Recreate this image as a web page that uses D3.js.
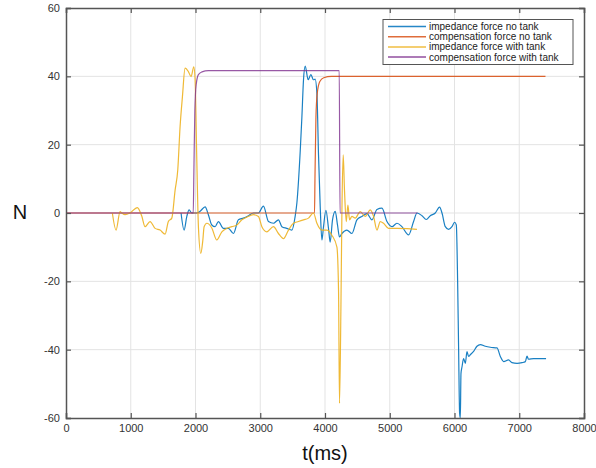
<!DOCTYPE html>
<html>
<head>
<meta charset="utf-8">
<script src="https://cdn.jsdelivr.net/npm/d3@7"></script>
<style>
  html, body { margin: 0; padding: 0; background: #fff; }
  svg { display: block; font-family: "Liberation Sans", Arial, sans-serif; }
</style>
</head>
<body>
<svg id="chart" width="596" height="468"></svg>
<script>
// ---- data ----
const xTicks = [0, 1000, 2000, 3000, 4000, 5000, 6000, 7000, 8000];
const yTicks = [-60, -40, -20, 0, 20, 40, 60];
const seriesNames = ["impedance force no tank", "compensation force no tank", "impedance force with tank", "compensation force with tank"];

const impNoTankT = [1777,1824,1866,1901,1943,2020,2071,2148,2199,2252,2303,2354,2431,2508,2586,2663,2740,2818,2895,2972,3049,3127,3204,3281,3334,3409,3488,3539,3566,3617,3643,3668,3694,3740,3782,3822,3848,3875,3900,3926,3952,3977,4014,4054,4080,4116,4158,4193,4224,4261,4338,4416,4493,4570,4648,4725,4802,4880,4957,5034,5111,5188,5291,5368,5420,5498,5564,5626,5703,5770,5807,5858,5909,5961,6001,6028,6048,6063,6079,6090,6100,6116,6141,6167,6193,6218,6244,6295,6347,6399,6476,6553,6657,6708,6760,6835,6888,6966,7043,7094,7120,7143,7222,7326,7414];
const impNoTankV = [0,-5,-1,0.9,0,0,0.5,1.8,-0.5,-3.5,-4,-2.5,-4.5,-4.5,-6,-2,-1.5,-0.8,0,0,2,-2.5,-3,-2,-4,-4.5,-5,-1,3,18,28,39,43,39,40.5,39,39.2,35,17,1.9,-7.9,-4,0.8,-4.5,-8.5,-2,0.5,-3.5,-7,-6,-5,-6,-2,-1,-0.2,-2,1,1.4,-2.5,-4,-3,-4,-6.4,-2.5,0,-0.8,-1.9,-0.8,0,1.7,0,-4,-4.8,-4,-2.7,-3.5,-19.6,-39,-58.6,-60,-47,-45,-42.6,-44,-40.6,-42,-41.5,-40.5,-39,-38.5,-39,-39.3,-39.5,-42,-43.5,-43,-43.8,-44,-43.8,-43.5,-41.9,-42.8,-42.6,-42.6,-42.6];

const compNoTankT = [0,3838,3845,3860,3880,3920,3980,4100,7405];
const compNoTankV = [0,0,10,28,35,38.5,39.6,40,40];

const impTankT = [716,773,835,861,912,989,1102,1170,1221,1298,1376,1453,1530,1581,1634,1685,1726,1762,1798,1839,1890,1932,1974,1994,2020,2045,2082,2113,2133,2175,2252,2329,2407,2484,2561,2638,2716,2793,2895,2972,3025,3102,3204,3281,3359,3436,3513,3590,3668,3745,3822,3875,3952,4029,4106,4184,4209,4224,4246,4261,4281,4301,4328,4354,4379,4416,4467,4544,4621,4699,4750,4802,4853,4904,4981,5111,5266,5420];
const impTankV = [0,-5,0.4,0,-0.5,0,1.6,-0.9,-4,-2.5,-4.5,-5,-6.2,-2.5,-1.5,6.7,12.6,25.3,34,42.4,41.4,39.9,42.8,38.9,15.5,-4,-11.8,-8,-4,-3,-4.4,-7.9,-5.5,-4.5,-4,-3.5,-2,-1.2,-0.5,-1,-4,-5.5,-4,-6,-7.5,-5,-3,-2.5,-2,-1.5,0,-3,-5,-5,-6.5,-10,-22.5,-55.7,-27.4,0,17,6.7,-2.5,2.3,-2,-1,-1.5,0.4,-1,0.9,-1,-5,-2.5,-3,-4.5,-4.5,-4.6,-4.8];

const compTankT = [0,1965,1975,1990,2010,2045,2100,2200,4220,4232,5430];
const compTankV = [0,0,12,30,37.5,40.5,41.3,41.7,41.7,0,0];

const colors = ["#0072BD", "#D95319", "#EDB120", "#7E2F8E"];

// ---- chart ----
const svg = d3.select("#chart");
const L = 66, R = 584, T = 8, B = 418;
const x = d3.scaleLinear().domain([0, 8000]).range([L, R]);
const y = d3.scaleLinear().domain([-60, 60]).range([B, T]);

// grid
const grid = svg.append("g");
grid.selectAll(".gx").data(xTicks.slice(1, -1)).enter().append("line")
  .attr("x1", d => x(d)).attr("x2", d => x(d)).attr("y1", T).attr("y2", B)
  .attr("stroke", "#e3e3e3").attr("stroke-width", 1);
grid.selectAll(".gy").data(yTicks.slice(1, -1)).enter().append("line")
  .attr("x1", L).attr("x2", R).attr("y1", d => y(d)).attr("y2", d => y(d))
  .attr("stroke", "#e3e3e3").attr("stroke-width", 1);

// lines
const series = [
  [impNoTankT, impNoTankV],
  [compNoTankT, compNoTankV],
  [impTankT, impTankV],
  [compTankT, compTankV]
];
const lineGen = d3.line().x(d => x(d[0])).y(d => y(d[1])).curve(d3.curveMonotoneX);
svg.append("clipPath").attr("id", "clip").append("rect")
  .attr("x", L).attr("y", T).attr("width", R - L).attr("height", B - T);
const linesG = svg.append("g").attr("clip-path", "url(#clip)");
series.forEach((s, i) => {
  const pts = s[0].map((t, k) => [t, s[1][k]]);
  linesG.append("path").datum(pts).attr("d", lineGen)
    .attr("fill", "none").attr("stroke", colors[i]).attr("stroke-width", 1.2)
    .attr("stroke-opacity", i === 3 ? 0.8 : 0.9);
});

// axes (box with inward ticks on all sides)
const axCol = "#555";
const tickLen = 5;
const fmt = d => String(d);
const axB = svg.append("g").attr("transform", `translate(0,${B})`)
  .call(d3.axisBottom(x).tickValues(xTicks).tickSize(-tickLen).tickPadding(6).tickFormat(fmt));
const axT = svg.append("g").attr("transform", `translate(0,${T})`)
  .call(d3.axisTop(x).tickValues(xTicks).tickSize(-tickLen).tickFormat(""));
const axL = svg.append("g").attr("transform", `translate(${L},0)`)
  .call(d3.axisLeft(y).tickValues(yTicks).tickSize(-tickLen).tickPadding(6).tickFormat(fmt));
const axR = svg.append("g").attr("transform", `translate(${R},0)`)
  .call(d3.axisRight(y).tickValues(yTicks).tickSize(-tickLen).tickFormat(""));
[axB, axT, axL, axR].forEach(a => {
  a.select(".domain").attr("stroke", axCol).attr("stroke-width", 1.5);
  a.selectAll(".tick line").attr("stroke", axCol).attr("stroke-width", 1.2);
  a.selectAll(".tick text").attr("fill", "#333").attr("font-size", 11)
    .attr("font-family", "Liberation Sans, Arial, sans-serif");
});

// axis labels
svg.append("text").attr("x", x(4000)).attr("y", 460).attr("text-anchor", "middle")
  .attr("font-size", 20).attr("fill", "#111").text("t(ms)");
svg.append("text").attr("x", 20).attr("y", 219).attr("text-anchor", "middle")
  .attr("font-size", 20).attr("fill", "#111").text("N");

// legend
const lx = 383, ly = 19.5, lw = 190, lh = 45;
const leg = svg.append("g");
leg.append("rect").attr("x", lx).attr("y", ly).attr("width", lw).attr("height", lh)
  .attr("fill", "#fff").attr("stroke", "#555").attr("stroke-width", 1);
seriesNames.forEach((n, i) => {
  const yy = ly + 7 + i * 10.2;
  leg.append("line").attr("x1", lx + 5).attr("x2", lx + 43).attr("y1", yy).attr("y2", yy)
    .attr("stroke", colors[i]).attr("stroke-width", 1.5).attr("stroke-opacity", 0.85);
  leg.append("text").attr("x", lx + 46).attr("y", yy + 3.5).attr("font-size", 10)
    .attr("fill", "#222").text(n);
});
</script>
</body>
</html>
